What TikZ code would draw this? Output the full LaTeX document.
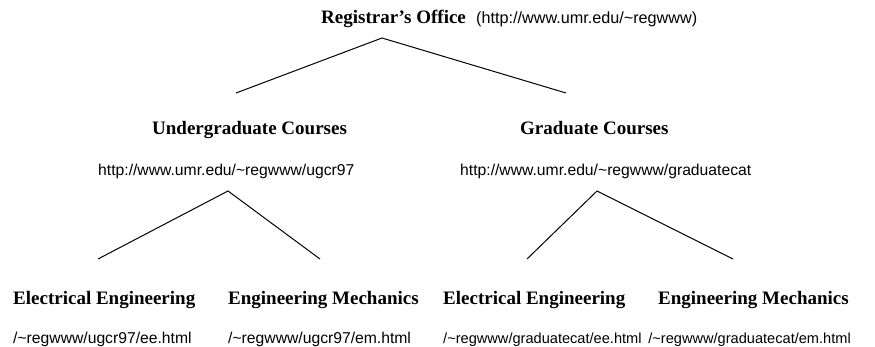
\documentclass[tikz,border=0pt]{standalone}
\usepackage{fontspec}
\setmainfont{Liberation Serif}
\newfontfamily\urlfont{Liberation Sans}
\begin{document}
\begin{tikzpicture}[x=1pt,y=-1pt,
  title/.style={font=\fontsize{19}{22}\selectfont\bfseries, inner sep=0pt, anchor=base west},
  link/.style={font=\urlfont\fontsize{15.7}{19}\selectfont, inner sep=0pt, anchor=base west},
  smalllink/.style={link, font=\urlfont\fontsize{14.6}{18}\selectfont},
  branch/.style={line width=1pt, line join=miter}]
\useasboundingbox (0,0) rectangle (875,347);
% texts
\node[title] (reg) at (321,24) {Registrar's Office};
\node[link, font=\urlfont\fontsize{16.2}{19}\selectfont] (regurl) at (476,24) {(http://www.umr.edu/\char`\~regwww)};
\node[title] (ug) at (152,135) {Undergraduate Courses};
\node[link] (ugurl) at (98,176) {http://www.umr.edu/\char`\~regwww/ugcr97};
\node[title] (gr) at (520,135) {Graduate Courses};
\node[link] (grurl) at (460,176) {http://www.umr.edu/\char`\~regwww/graduatecat};
\node[title] (ee1) at (13,304) {Electrical Engineering};
\node[title] (em1) at (228,304) {Engineering Mechanics};
\node[link] (ee1url) at (13,343) {/\char`\~regwww/ugcr97/ee.html};
\node[link] (em1url) at (228,343) {/\char`\~regwww/ugcr97/em.html};
\node[title] (ee2) at (443,304) {Electrical Engineering};
\node[title] (em2) at (658,304) {Engineering Mechanics};
\node[smalllink] (ee2url) at (443,343) {/\char`\~regwww/graduatecat/ee.html};
\node[smalllink, anchor=base east] (em2url) at (851,343) {/\char`\~regwww/graduatecat/em.html};
% branch points
\coordinate (topapex) at (382,38);
\coordinate (topL) at (236,93);
\coordinate (topR) at (566,93);
\coordinate (ugapex) at (228,191);
\coordinate (ugL) at (98,259);
\coordinate (ugR) at (320,259);
\coordinate (grapex) at (597,191);
\coordinate (grL) at (527,259);
\coordinate (grR) at (733,259);
\draw[branch] (topL) -- (topapex) -- (topR);
\draw[branch] (ugL) -- (ugapex) -- (ugR);
\draw[branch] (grL) -- (grapex) -- (grR);
\end{tikzpicture}
\end{document}
